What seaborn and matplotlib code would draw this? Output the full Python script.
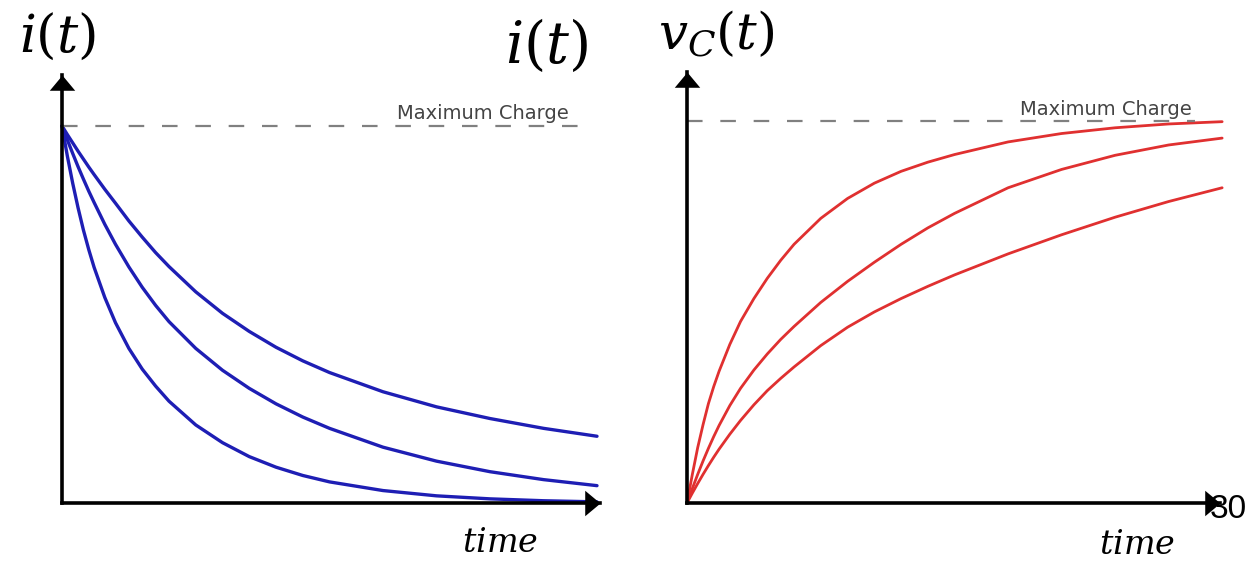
import numpy as np
import pandas as pd
import matplotlib.pyplot as plt
import seaborn as sns
from matplotlib.patches import Rectangle

# values (t in time units, y as a fraction of maximum charge)
t_vals = [0, 0.1, 0.2, 0.3, 0.4, 0.5, 0.6, 0.8, 1.0, 1.25, 1.5, 1.75, 2,
          2.5, 3, 3.5, 4, 4.5, 5, 6, 7, 8, 9, 10]

# i(t): three discharging currents
i_slow = [1.0, 0.977, 0.955, 0.933, 0.912, 0.891, 0.871, 0.832, 0.795, 0.748, 0.705, 0.664, 0.627,
          0.56, 0.503, 0.455, 0.413, 0.377, 0.346, 0.295, 0.255, 0.224, 0.198, 0.177]
i_mid = [1.0, 0.963, 0.927, 0.892, 0.859, 0.827, 0.797, 0.739, 0.686, 0.626, 0.572, 0.524, 0.481,
         0.41, 0.352, 0.304, 0.263, 0.228, 0.198, 0.148, 0.111, 0.083, 0.062, 0.046]
i_fast = [1.0, 0.92, 0.848, 0.783, 0.724, 0.672, 0.625, 0.545, 0.478, 0.41, 0.355, 0.31, 0.27,
          0.207, 0.16, 0.123, 0.095, 0.073, 0.056, 0.033, 0.019, 0.011, 0.006, 0.003]

# vC(t): three charging voltages
v_fast = [0, 0.075, 0.145, 0.205, 0.26, 0.305, 0.345, 0.415, 0.475, 0.535, 0.588, 0.635, 0.677,
          0.745, 0.797, 0.837, 0.868, 0.892, 0.912, 0.945, 0.967, 0.982, 0.992, 0.998]
v_mid = [0, 0.038, 0.075, 0.11, 0.143, 0.174, 0.203, 0.255, 0.30, 0.348, 0.39, 0.428, 0.462,
         0.525, 0.58, 0.63, 0.677, 0.72, 0.758, 0.825, 0.873, 0.91, 0.937, 0.955]
v_slow = [0, 0.026, 0.051, 0.075, 0.098, 0.12, 0.141, 0.18, 0.216, 0.257, 0.294, 0.326, 0.356,
          0.412, 0.46, 0.50, 0.535, 0.567, 0.597, 0.652, 0.702, 0.748, 0.789, 0.825]

max_label = "Maximum Charge"

def long_df(curves):
    rows = []
    for name, ys in curves.items():
        for t, y in zip(t_vals, ys):
            rows.append({"t": t, "y": y, "curve": name})
    return pd.DataFrame(rows)

df_i = long_df({"slow": i_slow, "mid": i_mid, "fast": i_fast})
df_v = long_df({"fast": v_fast, "mid": v_mid, "slow": v_slow})

sns.set_style("white")
plt.rcParams["mathtext.fontset"] = "dejavuserif"

W, H = 1259, 561
fig = plt.figure(figsize=(W / 100, H / 100), dpi=100)


def px_axes(x0, y0, x1, y1):
    # pixel box: left, top, right, bottom
    return fig.add_axes([x0 / W, 1 - y1 / H, (x1 - x0) / W, (y1 - y0) / H])


def fig_xy(x, y):
    return x / W, 1 - y / H


up_head = [(-1, -1.2), (1, -1.2), (0, 0)]
right_head = [(-1.2, -1), (-1.2, 1), (0, 0)]


def style_axes(ax):
    for s in ["top", "right"]:
        ax.spines[s].set_visible(False)
    for s in ["left", "bottom"]:
        ax.spines[s].set_linewidth(2.6)
        ax.spines[s].set_color("black")
    ax.set_xticks([])
    ax.set_yticks([])
    ax.set_xlabel("")
    ax.set_ylabel("")
    ax.set_facecolor("white")
    ax.plot([0], [1], marker=up_head, ms=22, mew=0, color="black",
            transform=ax.transAxes, clip_on=False)
    ax.plot([1], [0], marker=right_head, ms=22, mew=0, color="black",
            transform=ax.transAxes, clip_on=False)


# left panel: current
ax1 = px_axes(62, 75, 600, 503)
sns.lineplot(data=df_i, x="t", y="y", hue="curve", palette=["#1e1eb4"] * 3,
             linewidth=2.4, legend=False, ax=ax1, clip_on=False)
ax1.plot([0, 9.68], [1, 1], color="#808080", lw=1.6, dashes=(7, 8))
ax1.set_xlim(0, 10.056)
ax1.set_ylim(0, 1.135)
style_axes(ax1)

# right panel: capacitor voltage
ax2 = px_axes(687, 72, 1220, 503)
sns.lineplot(data=df_v, x="t", y="y", hue="curve", palette=["#e03030"] * 3,
             linewidth=2.0, legend=False, ax=ax2, clip_on=False)
ax2.plot([0, 9.5], [1, 1], color="#808080", lw=1.6, dashes=(7, 8))
ax2.set_xlim(0, 9.96)
ax2.set_ylim(0, 1.128)
style_axes(ax2)

fig.text(*fig_xy(397, 123), max_label, fontsize=14, color="#444444", ha="left", va="bottom")
fig.text(*fig_xy(1020, 119), max_label, fontsize=14, color="#444444", ha="left", va="bottom")

# white box behind the left "time" label
fig.patches.append(Rectangle(fig_xy(422, 561), 160 / W, 55.5 / H, transform=fig.transFigure,
                             facecolor="white", edgecolor="none", zorder=5))

fig.text(*fig_xy(58, 37), r"$i(t)$", fontsize=38, color="black", ha="center", va="center")
fig.text(*fig_xy(547, 46), r"$i(t)$", fontsize=41, color="black", ha="center", va="center")
fig.text(*fig_xy(716, 35), r"$v_C(t)$", fontsize=37, color="black", ha="center", va="center")
fig.text(*fig_xy(500, 543), r"$time$", fontsize=24, color="black", ha="center", va="center", zorder=6)
fig.text(*fig_xy(1137, 545), r"$time$", fontsize=24, color="black", ha="center", va="center")
fig.text(*fig_xy(1228, 510), "30", fontsize=24, family="Liberation Sans", color="black",
         ha="center", va="center")

fig.savefig("out.png", dpi=100)
